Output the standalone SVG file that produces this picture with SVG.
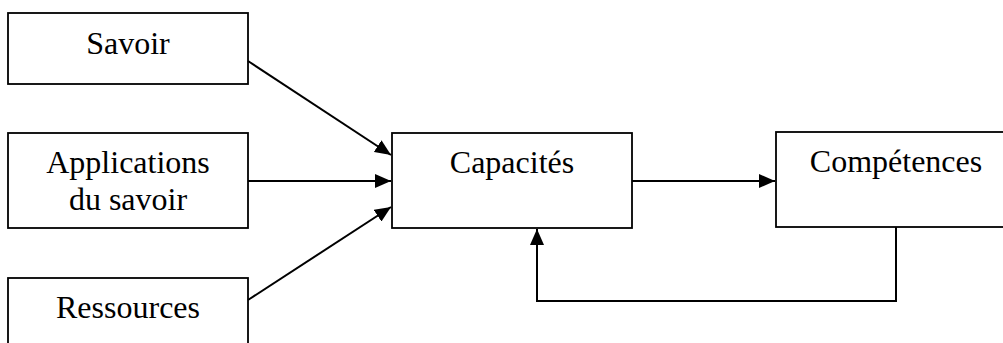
<svg xmlns="http://www.w3.org/2000/svg" width="1003" height="343" viewBox="0 0 1003 343">
  <style>
    .box { fill: #ffffff; stroke: #000000; stroke-width: 1.8; }
    .lbl { font-family: "Liberation Serif", "Times New Roman", serif; font-size: 32px; fill: #000000; text-anchor: middle; }
    .link { fill: none; stroke: #000000; stroke-width: 2; }
  </style>
  <defs>
    <marker id="arrow" viewBox="0 0 16 14" refX="16" refY="7" markerWidth="16" markerHeight="14" markerUnits="userSpaceOnUse" orient="auto">
      <path d="M0,0 L16,7 L0,14 Z" fill="#000000"/>
    </marker>
  </defs>

  <rect width="1003" height="343" fill="#ffffff"/>

  <g id="savoir">
    <rect class="box" x="8" y="13" width="240" height="71"/>
    <text class="lbl" x="128" y="54">Savoir</text>
  </g>

  <g id="applications">
    <rect class="box" x="8" y="133" width="240" height="95"/>
    <text class="lbl" x="128" y="173">Applications</text>
    <text class="lbl" x="128" y="210">du savoir</text>
  </g>

  <g id="ressources">
    <rect class="box" x="8" y="278" width="240" height="90"/>
    <text class="lbl" x="128" y="318">Ressources</text>
  </g>

  <g id="capacites">
    <rect class="box" x="392" y="133" width="240" height="95"/>
    <text class="lbl" x="512" y="173">Capacités</text>
  </g>

  <g id="competences">
    <rect class="box" x="776" y="132" width="240" height="95"/>
    <text class="lbl" x="896" y="172">Compétences</text>
  </g>

  <g id="connectors">
    <line class="link" x1="248" y1="61" x2="391" y2="155" marker-end="url(#arrow)"/>
    <line class="link" x1="248" y1="181" x2="391" y2="181" marker-end="url(#arrow)"/>
    <line class="link" x1="248" y1="300" x2="391" y2="207" marker-end="url(#arrow)"/>
    <line class="link" x1="632" y1="181" x2="775" y2="181" marker-end="url(#arrow)"/>
    <polyline class="link" points="896,227 896,301 537,301 537,229" marker-end="url(#arrow)"/>
  </g>
</svg>
